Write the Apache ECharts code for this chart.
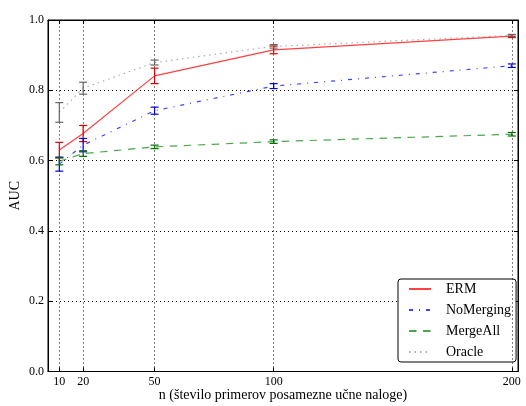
<!DOCTYPE html>
<html>
<head>
<meta charset="utf-8">
<script src="https://cdn.jsdelivr.net/npm/echarts@6/dist/echarts.min.js"></script>
<style>html,body{margin:0;padding:0;background:#fff}#c{width:526px;height:406px}</style>
</head>
<body>
<div id="c"></div>
<script>
const xTicks = [10, 20, 50, 100, 200];
const yTicks = [0, 0.2, 0.4, 0.6, 0.8, 1.0];

const ermMean = [0.630, 0.677, 0.841, 0.915, 0.954];
const ermErr = [0.022, 0.023, 0.022, 0.011, 0.004];
const noMergingMean = [0.590, 0.644, 0.742, 0.812, 0.870];
const noMergingErr = [0.020, 0.019, 0.010, 0.007, 0.005];
const mergeAllMean = [0.598, 0.620, 0.639, 0.654, 0.675];
const mergeAllErr = [0.010, 0.008, 0.005, 0.005, 0.005];
const oracleMean = [0.737, 0.806, 0.879, 0.925, 0.956];
const oracleErr = [0.028, 0.017, 0.007, 0.005, 0.003];

const FONT = 'Liberation Serif';
const XMIN = 5.25, XMAX = 202.6;

function pts(mean) { return xTicks.map((x, i) => [x, mean[i]]); }
function bars(mean, err) { return xTicks.map((x, i) => [x, mean[i] - err[i], mean[i] + err[i]]); }

function errSeries(name, mean, err, color) {
  return {
    type: 'custom', name: name + '_err', silent: true, z: 5,
    data: bars(mean, err),
    encode: { x: 0, y: [1, 2] },
    renderItem: function (params, api) {
      const x = api.value(0);
      const top = api.coord([x, api.value(2)]);
      const bot = api.coord([x, api.value(1)]);
      const w = 4;
      const st = { stroke: color, lineWidth: 1.2 };
      return {
        type: 'group', children: [
          { type: 'line', shape: { x1: top[0], y1: top[1], x2: bot[0], y2: bot[1] }, style: st },
          { type: 'line', shape: { x1: top[0] - w, y1: top[1], x2: top[0] + w, y2: top[1] }, style: st },
          { type: 'line', shape: { x1: bot[0] - w, y1: bot[1], x2: bot[0] + w, y2: bot[1] }, style: st }
        ]
      };
    }
  };
}

function lineSeries(name, mean, color, type, opacity) {
  return {
    type: 'line', name: name, data: pts(mean), symbol: 'none', z: 4,
    lineStyle: { color: color, width: 1.2, type: type, opacity: opacity },
    itemStyle: { color: color, opacity: opacity }
  };
}

const chart = echarts.init(document.getElementById('c'), null, { renderer: 'canvas' });
chart.setOption({
  animation: false,
  backgroundColor: '#fff',
  grid: { left: 48, top: 20, right: 8, bottom: 34.5, show: true, borderColor: '#000', borderWidth: 1,
          containLabel: false, outerBoundsMode: 'none' },
  xAxis: [{
    type: 'value', min: XMIN, max: XMAX,
    name: 'n (število primerov posamezne učne naloge)', nameLocation: 'middle', nameGap: 17,
    nameMoveOverlap: false,
    nameTextStyle: { fontFamily: FONT, fontSize: 14, color: '#000' },
    axisLine: { show: true, onZero: false, lineStyle: { color: '#000', width: 1 } },
    axisTick: { show: true, inside: true, length: 4, customValues: xTicks, lineStyle: { color: '#000' } },
    axisLabel: { customValues: xTicks, fontFamily: FONT, fontSize: 12, color: '#000', margin: 4 },
    splitLine: { show: false }
  }, {
    type: 'value', min: XMIN, max: XMAX, position: 'top',
    axisLine: { show: true, onZero: false, lineStyle: { color: '#000' } },
    axisTick: { show: true, inside: true, length: 4, customValues: xTicks, lineStyle: { color: '#000' } },
    axisLabel: { show: false }, splitLine: { show: false }
  }],
  yAxis: [{
    type: 'value', min: 0, max: 1, interval: 0.2,
    name: 'AUC', nameLocation: 'middle', nameGap: 26, nameRotate: 90,
    nameMoveOverlap: false,
    nameTextStyle: { fontFamily: FONT, fontSize: 14, color: '#000' },
    axisLine: { show: true, onZero: false, lineStyle: { color: '#000' } },
    axisTick: { show: true, inside: true, length: 4, lineStyle: { color: '#000' } },
    axisLabel: { fontFamily: FONT, fontSize: 12, color: '#000', margin: 4, formatter: v => v.toFixed(1) },
    splitLine: { show: true, lineStyle: { color: '#000', width: 1, type: [1, 3] } }
  }, {
    type: 'value', min: 0, max: 1, interval: 0.2, position: 'right',
    axisLine: { show: true, onZero: false, lineStyle: { color: '#000' } },
    axisTick: { show: true, inside: true, length: 4, lineStyle: { color: '#000' } },
    axisLabel: { show: false }, splitLine: { show: false }
  }],
  legend: {
    data: ['ERM', 'NoMerging', 'MergeAll', 'Oracle'],
    orient: 'vertical', left: 398, top: 279,
    backgroundColor: '#fff', borderColor: '#000', borderWidth: 1, borderRadius: 3,
    padding: [3, 5, 3, 10], itemGap: 7, itemWidth: 22, itemHeight: 14,
    itemStyle: { opacity: 0, borderWidth: 0 },
    textStyle: { fontFamily: FONT, fontSize: 14, color: '#000', padding: [0, 0, 0, 10], lineHeight: 14 }
  },
  series: [
    {
      type: 'line', name: 'grid', data: [], silent: true, z: 1,
      markLine: {
        silent: true, symbol: 'none', label: { show: false },
        lineStyle: { color: '#000', width: 1, type: [1, 3] },
        data: xTicks.map(x => ({ xAxis: x }))
      }
    },
    lineSeries('ERM', ermMean, '#ff0000', 'solid', 0.75),
    lineSeries('NoMerging', noMergingMean, '#0000ff', [4, 6, 1, 6], 0.75),
    lineSeries('MergeAll', mergeAllMean, '#008000', [7.5, 6.5], 0.7),
    lineSeries('Oracle', oracleMean, '#999999', [1.5, 4], 0.8),
    errSeries('ERM', ermMean, ermErr, '#dd0000'),
    errSeries('NoMerging', noMergingMean, noMergingErr, '#0000dd'),
    errSeries('MergeAll', mergeAllMean, mergeAllErr, '#007000'),
    errSeries('Oracle', oracleMean, oracleErr, '#666666')
  ]
});
</script>
</body>
</html>
